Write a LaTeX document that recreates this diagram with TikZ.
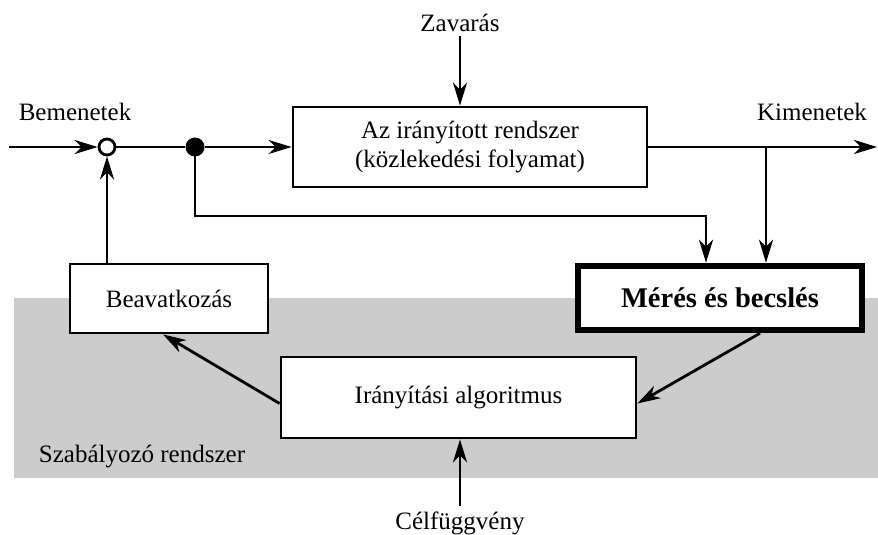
\documentclass[tikz,border=0pt]{standalone}
\usepackage{fontspec}
\setmainfont{Liberation Serif}
\usetikzlibrary{arrows.meta,calc}
\tikzset{
  lw/.style={line width=2.8pt},
  arr/.style={lw,-{Stealth[length=23pt,width=14pt,inset=7pt]}},
  blk/.style={draw,lw,fill=white,inner sep=0pt,font=\fontsize{25}{29}\selectfont,align=center},
  lbl/.style={inner sep=3pt,font=\fontsize{25}{29}\selectfont,anchor=base},
}
\begin{document}
\begin{tikzpicture}[x=1pt,y=-1pt]
\useasboundingbox (0,0) rectangle (878,535);
\fill[gray!40] (14,298) rectangle (878,478);

\node[blk,minimum width=354pt,minimum height=80pt] (sys) at (470,147) {Az irányított rendszer\\(közlekedési folyamat)};
\node[blk,minimum width=198pt,minimum height=69pt] (beav) at (169,298.5) {Beavatkozás};
\node[blk,line width=6.5pt,minimum width=284pt,minimum height=64pt,font=\fontsize{28.5}{32}\selectfont\bfseries] (mer) at (720,298) {Mérés és becslés};
\node[blk,minimum width=355pt,minimum height=81pt] (alg) at (458.5,397.5) {Irányítási algoritmus};

\node[draw,lw,circle,fill=white,minimum size=16pt,inner sep=0pt] (c) at (107,147) {};
\node[circle,fill=black,minimum size=19pt,inner sep=0pt] (dot) at (195,147) {};

\node[lbl] (bem) at (75,120) {Bemenetek};
\node[lbl] (kim) at (812,120) {Kimenetek};
\node[lbl,inner sep=4pt] (zav) at (460,32) {Zavarás};
\node[lbl,inner sep=5pt] (cel) at (460,529) {Célfüggvény};
\node[lbl] (szab) at (142,462) {Szabályozó rendszer};

\coordinate (in) at (9,147);
\coordinate (out) at (877,147);
\coordinate (br) at (766,147);
\coordinate (m1) at (706,216);

\draw[arr] (in) -- (c.west);
\draw[lw] (c.east) -- (dot);
\draw[arr] (dot) -- (sys.west);
\draw[arr] (zav.south) -- (zav.south |- sys.north);
\draw[arr] (sys.east) -- (out);
\draw[arr] (br) -- (br |- mer.north);
\draw[arr] (dot.center) |- (m1) -- (m1 |- mer.north);
\draw[arr] ([xshift=40pt]mer.south) -- ([yshift=-6pt]alg.east);
\draw[arr] ([yshift=-6pt]alg.west) -- ([xshift=-6pt]beav.south);
\draw[arr] (cel.north) -- (cel.north |- alg.south);
\draw[arr] (c |- beav.north) -- (c.south);
\end{tikzpicture}
\end{document}
